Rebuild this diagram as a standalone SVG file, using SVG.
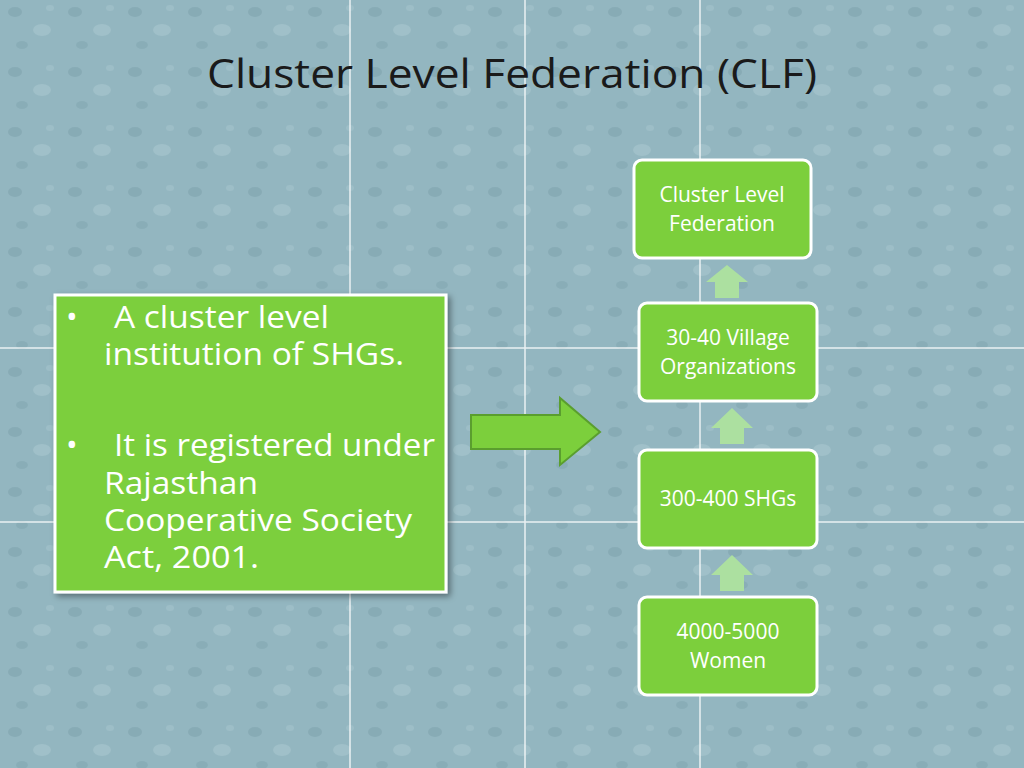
<svg xmlns="http://www.w3.org/2000/svg" width="1024" height="768" viewBox="0 0 1024 768">
<style>
.box{fill:#7ccf3c;stroke:#fff;stroke-width:3}
.t{font-family:"Open Sans","Liberation Sans",sans-serif;fill:#fff;font-size:21px;text-anchor:middle}
.b{font-family:"Open Sans","Liberation Sans",sans-serif;fill:#fff;font-size:31px}
.up{fill:#ace0a0}
.grid{stroke:#fff;stroke-width:1.5;opacity:0.8}
</style>
<defs>
<pattern id="drops" width="60" height="60" patternUnits="userSpaceOnUse">
<rect width="60" height="60" fill="#93b6c0"/>
<ellipse cx="15" cy="12" rx="7" ry="5" fill="#7fa3ae" opacity="0.6"/>
<ellipse cx="42" cy="30" rx="9" ry="6" fill="#a8c6ce" opacity="0.6"/>
<ellipse cx="22" cy="45" rx="6" ry="4" fill="#7fa3ae" opacity="0.5"/>
<ellipse cx="50" cy="8" rx="4" ry="3" fill="#a8c6ce" opacity="0.5"/>
</pattern>
<filter id="sh" x="-10%" y="-10%" width="130%" height="130%"><feDropShadow dx="3" dy="3" stdDeviation="3" flood-opacity="0.4"/></filter>
</defs>
<rect width="1024" height="768" fill="url(#drops)"/>
<g class="grid">
<line x1="350" y1="0" x2="350" y2="768"/><line x1="525" y1="0" x2="525" y2="768"/><line x1="700" y1="0" x2="700" y2="768"/>
<line x1="0" y1="348" x2="1024" y2="348"/><line x1="0" y1="522" x2="1024" y2="522"/>
</g>
<text x="512" y="88" font-family="Open Sans,Liberation Sans,sans-serif" font-size="40" fill="#1a1a1a" text-anchor="middle" textLength="610" lengthAdjust="spacingAndGlyphs">Cluster Level Federation (CLF)</text>
<g id="left">
<rect x="55" y="295" width="391" height="297" class="box" filter="url(#sh)"/>
<text class="b" x="66" y="328" font-size="22">•</text>
<text class="b" x="114" y="328" textLength="215" lengthAdjust="spacingAndGlyphs">A cluster level</text>
<text class="b" x="104" y="365" textLength="300" lengthAdjust="spacingAndGlyphs">institution of SHGs.</text>
<text class="b" x="66" y="456" font-size="22">•</text>
<text class="b" x="114" y="456" textLength="321" lengthAdjust="spacingAndGlyphs">It is registered under</text>
<text class="b" x="104" y="494" textLength="154" lengthAdjust="spacingAndGlyphs">Rajasthan</text>
<text class="b" x="104" y="531" textLength="308" lengthAdjust="spacingAndGlyphs">Cooperative Society</text>
<text class="b" x="104" y="568" textLength="155" lengthAdjust="spacingAndGlyphs">Act, 2001.</text>
</g>
<g id="connectors">
<polygon points="471,415 560,415 560,398 600,432 560,465 560,449 471,449" fill="#7ccf3c" stroke="#5a9e2e" stroke-width="2"/>
<polygon class="up" points="715,298 715,282 706,282 727,265 748,282 739,282 739,298"/>
<polygon class="up" points="720,444 720,428 711,428 732,408 753,428 744,428 744,444"/>
<polygon class="up" points="720,591 720,575 711,575 732,555 753,575 744,575 744,591"/>
</g>
<g id="n1"><rect x="634" y="160" width="177" height="98" rx="8" class="box"/>
<text class="t" x="722" y="202">Cluster Level</text><text class="t" x="722" y="231">Federation</text></g>
<g id="n2"><rect x="639" y="303" width="178" height="98" rx="8" class="box"/>
<text class="t" x="728" y="345">30-40 Village</text><text class="t" x="728" y="374">Organizations</text></g>
<g id="n3"><rect x="639" y="450" width="178" height="98" rx="8" class="box"/>
<text class="t" x="728" y="506">300-400 SHGs</text></g>
<g id="n4"><rect x="639" y="597" width="178" height="98" rx="8" class="box"/>
<text class="t" x="728" y="639">4000-5000</text><text class="t" x="728" y="668">Women</text></g>
</svg>
